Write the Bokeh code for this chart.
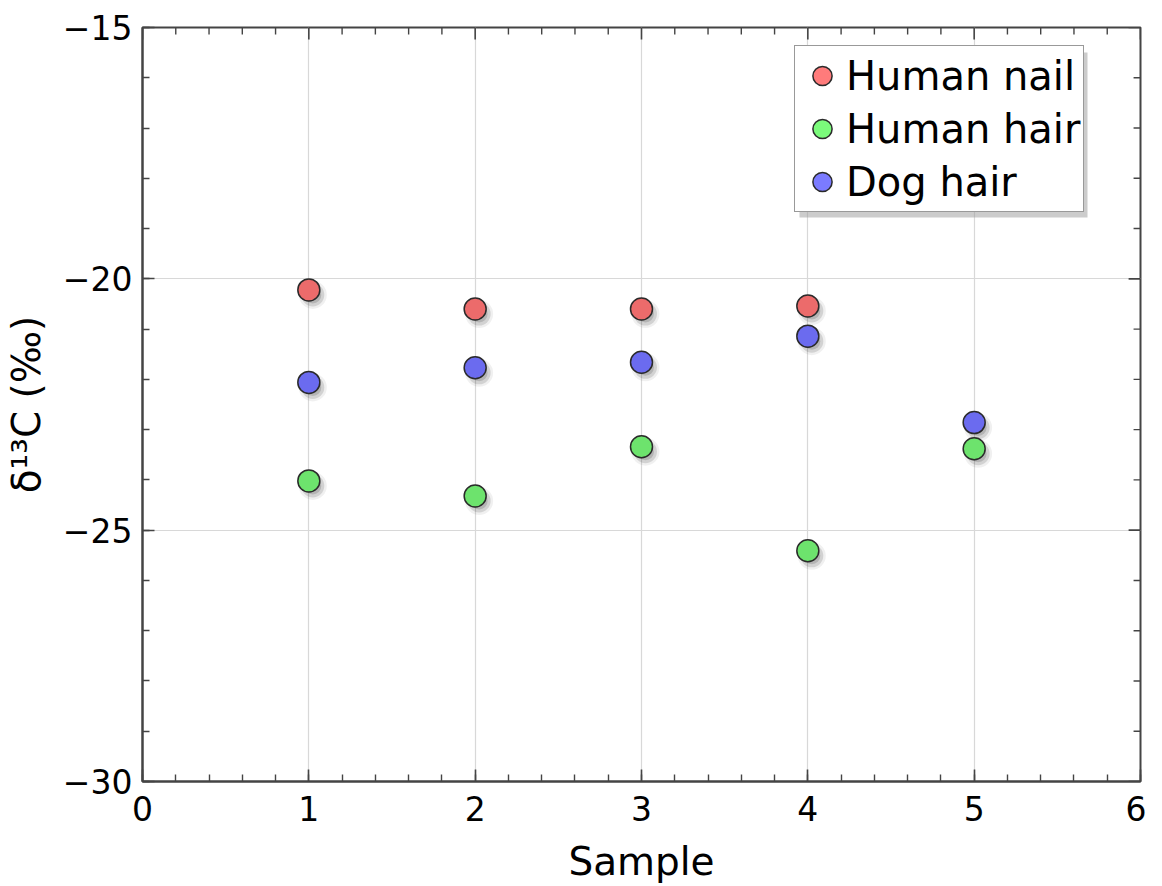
from bokeh.plotting import figure
from bokeh.models import FixedTicker, Range1d, Legend, LegendItem, BoxAnnotation
from bokeh.embed import file_html
from bokeh.resources import INLINE

# ---- data ----
series_names = ["Human nail", "Human hair", "Dog hair"]
samples_nail = [1, 2, 3, 4]
human_nail = [-20.22, -20.60, -20.60, -20.54]
samples_hair = [1, 2, 3, 4, 5]
human_hair = [-24.02, -24.32, -23.34, -25.41, -23.38]
samples_dog = [1, 2, 3, 4, 5]
dog_hair = [-22.06, -21.77, -21.66, -21.14, -22.86]
x_ticks = [0, 1, 2, 3, 4, 5, 6]
y_ticks = [-30, -25, -20, -15]
x_label = "Sample"
y_label = "δ¹³C (‰)"

# ---- layout / style ----
W, H = 1146, 886
ML, MR, MT, MB = 133, 6, 27, 105
frame_w = W - ML - MR
frame_h = H - MT - MB
X0, X1 = 0, 6
Y0, Y1 = -30, -15
FONT = "DejaVu Sans"
colors = ["#ec6b6b", "#6de36d", "#6b6bef"]
legend_colors = ["#ff7b7b", "#7bfb7b", "#7b7bff"]
EDGE = "#444444"
MAJ_IN, MIN_IN = 12, 7

p = figure(width=W, height=H, x_range=Range1d(X0, X1), y_range=Range1d(Y0, Y1),
           output_backend="svg", toolbar_location=None,
           min_border_left=ML, min_border_right=MR, min_border_top=MT, min_border_bottom=MB)
p.background_fill_color = "white"
p.border_fill_color = "white"
p.outline_line_color = EDGE
p.outline_line_width = 2

x_minor = [X0 + i * 0.2 for i in range(int(round((X1 - X0) / 0.2)) + 1)]
y_minor = list(range(Y0, Y1 + 1))
xt = FixedTicker(ticks=x_ticks, minor_ticks=x_minor)
yt = FixedTicker(ticks=y_ticks, minor_ticks=y_minor)


def fmt(v):
    return ("\u2212" + str(abs(v))) if v < 0 else str(v)


def style_axis(ax):
    ax.axis_line_color = EDGE
    ax.axis_line_width = 2
    ax.major_tick_line_color = EDGE
    ax.major_tick_line_width = 1.6
    ax.minor_tick_line_color = EDGE
    ax.minor_tick_line_width = 1.4
    ax.major_tick_in = MAJ_IN
    ax.major_tick_out = 0
    ax.minor_tick_in = MIN_IN
    ax.minor_tick_out = 0
    ax.major_label_text_font = FONT
    ax.major_label_text_font_size = "33px"
    ax.major_label_text_color = "black"
    ax.axis_label_text_font = FONT
    ax.axis_label_text_font_size = "39px"
    ax.axis_label_text_font_style = "normal"
    ax.axis_label_text_color = "black"


xa = p.xaxis[0]
xa.ticker = xt
xa.major_label_overrides = {t: fmt(t) for t in x_ticks}
xa.axis_label = x_label
xa.major_label_standoff = 14
xa.axis_label_standoff = 15
style_axis(xa)

ya = p.yaxis[0]
ya.ticker = yt
ya.major_label_overrides = {t: fmt(t) for t in y_ticks}
ya.axis_label = y_label
ya.major_label_standoff = 10
ya.axis_label_standoff = 11
style_axis(ya)

p.xgrid.ticker = xt
p.ygrid.ticker = yt
for g in (p.xgrid[0], p.ygrid[0]):
    g.grid_line_color = "#d8d8d8"
    g.grid_line_width = 1.2

# ---- mirrored inward ticks on top and right edges ----
ux = (X1 - X0) / frame_w   # data units per pixel (x)
uy = (Y1 - Y0) / frame_h   # data units per pixel (y)
x_min_only = [v for v in x_minor if all(abs(v - t) > 1e-9 for t in x_ticks)]
y_min_only = [v for v in y_minor if v not in y_ticks]
p.segment(x0=x_ticks, y0=[Y1] * len(x_ticks), x1=x_ticks, y1=[Y1 - MAJ_IN * uy] * len(x_ticks),
          line_color=EDGE, line_width=1.6)
p.segment(x0=x_min_only, y0=[Y1] * len(x_min_only), x1=x_min_only,
          y1=[Y1 - MIN_IN * uy] * len(x_min_only), line_color=EDGE, line_width=1.4)
p.segment(x0=[X1] * len(y_ticks), y0=y_ticks, x1=[X1 - MAJ_IN * ux] * len(y_ticks), y1=y_ticks,
          line_color=EDGE, line_width=1.6)
p.segment(x0=[X1] * len(y_min_only), y0=y_min_only, x1=[X1 - MIN_IN * ux] * len(y_min_only),
          y1=y_min_only, line_color=EDGE, line_width=1.4)

# ---- point shadows ----
dx = 4 * ux
dy = 5 * uy
all_x = samples_nail + samples_hair + samples_dog
all_y = human_nail + human_hair + dog_hair
sx = [v + dx for v in all_x]
sy = [v - dy for v in all_y]
p.scatter(sx, sy, size=28, fill_color="black", fill_alpha=0.06, line_color=None)
p.scatter(sx, sy, size=23, fill_color="black", fill_alpha=0.12, line_color=None)
p.scatter(sx, sy, size=17, fill_color="black", fill_alpha=0.14, line_color=None)

# ---- points ----
xs_list = [samples_nail, samples_hair, samples_dog]
ys_list = [human_nail, human_hair, dog_hair]
for xs, ys, c in zip(xs_list, ys_list, colors):
    p.scatter(xs, ys, size=22, fill_color=c, line_color="#2a2a2a", line_width=1.5)

# ---- legend (with shadow) ----
nan = float("nan")
dummy = []
for lc in legend_colors:
    dummy.append(p.scatter([nan], [nan], size=22, fill_color=lc, line_color="#2a2a2a", line_width=1.5))

LEG_X, LEG_Y = 652, 569
GW, GH, LH = 48, 53, 53     # legend marker drawn at 0.4 x min(glyph box)
PAD = 3
TEXT_W = 234
LEG_W_EST = 2 * PAD + GW + TEXT_W
LEG_H_EST = 3 * LH + 2 * PAD
OFF = 5

shadow = BoxAnnotation(left=LEG_X + OFF, right=LEG_X + OFF + LEG_W_EST,
                       bottom=LEG_Y - OFF, top=LEG_Y - OFF + LEG_H_EST,
                       left_units="screen", right_units="screen",
                       top_units="screen", bottom_units="screen",
                       fill_color="#9a9a9a", fill_alpha=0.5, line_color=None)
p.add_layout(shadow)

leg = Legend(items=[LegendItem(label=n, renderers=[r]) for n, r in zip(series_names, dummy)],
             location=(LEG_X, LEG_Y))
leg.label_text_font = FONT
leg.label_text_font_size = "40px"
leg.label_text_color = "black"
leg.glyph_width = GW
leg.glyph_height = GH
leg.label_height = LH
leg.label_standoff = 0
leg.spacing = 0
leg.padding = PAD
leg.margin = 0
leg.border_line_color = "#333333"
leg.border_line_width = 1.5
leg.background_fill_color = "white"
leg.background_fill_alpha = 1.0
p.add_layout(leg, "center")

open("out.html", "w").write(file_html(p, INLINE))
